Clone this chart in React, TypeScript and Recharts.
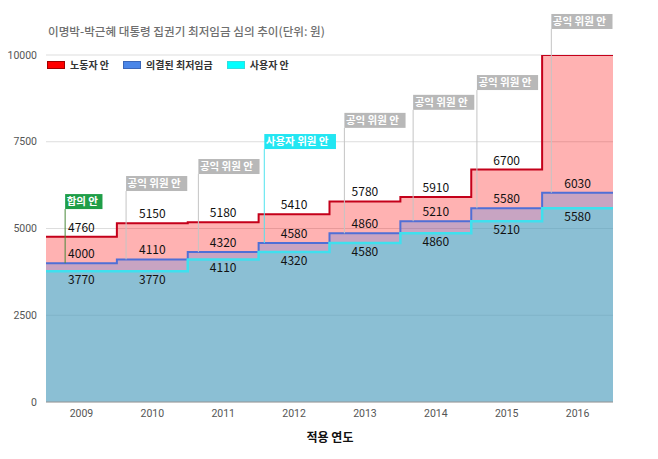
import React from 'react';
import {
  ComposedChart,
  Area,
  XAxis,
  YAxis,
  CartesianGrid,
  ReferenceLine,
  ReferenceDot,
  Scatter,
} from 'recharts';

const YEARS = ['2009', '2010', '2011', '2012', '2013', '2014', '2015', '2016'];
const WORKER = [4760, 5150, 5180, 5410, 5780, 5910, 6700, 10000];
const DECIDED = [4000, 4110, 4320, 4580, 4860, 5210, 5580, 6030];
const EMPLOYER = [3770, 3770, 4110, 4320, 4580, 4860, 5210, 5580];
const Y_TICKS = [0, 2500, 5000, 7500, 10000];

const NOTE_LABELS = ['합의 안', '공익 위원 안', '공익 위원 안', '사용자 위원 안', '공익 위원 안', '공익 위원 안', '공익 위원 안', '공익 위원 안'];
const NOTE_KIND = ['agree', 'public', 'public', 'employer', 'public', 'public', 'public', 'public'];
const NOTE_X = [0.27, 1.13, 2.15, 3.08, 4.21, 5.18, 6.08, 7.13];
const NOTE_TOP = [5560, 6080, 6570, 7290, 7900, 8420, 8990, 10750];

const SERIES_NAMES = ['노동자 안', '의결된 최저임금', '사용자 안'];
const TITLE = '이명박-박근혜 대통령 집권기 최저임금 심의 추이(단위: 원)';
const X_TITLE = '적용 연도';

const NOTE_STYLE: Record<string, { bg: string; line: string }> = {
  agree: { bg: '#1f9e48', line: '#4a8a3a' },
  public: { bg: '#b8b8b8', line: '#c4c4c4' },
  employer: { bg: '#22e6f2', line: '#4fe3ee' },
};

const last = YEARS.length - 1;
const rows = YEARS.map((_, i) => ({
  x: i,
  worker: WORKER[i],
  decided: DECIDED[i],
  employer: EMPLOYER[i],
}));
rows.push({ x: YEARS.length, worker: WORKER[last], decided: DECIDED[last], employer: EMPLOYER[last] });

const mids = (arr: number[]) => arr.map((v, i) => ({ x: i + 0.5, v }));
const X_TICKS = YEARS.map((_, i) => i + 0.5);

const FONT = "'Noto Sans CJK KR', 'Noto Sans', sans-serif";

const textWidth = (s: string, fs: number) => {
  let w = 0;
  for (const ch of s) {
    if (ch === ' ') w += fs * 0.27;
    else if (/[\uAC00-\uD7A3]/.test(ch)) w += fs;
    else w += fs * 0.55;
  }
  return w;
};

const labelShape = (dy: number) => (p: any) => (
  <text
    x={p.cx}
    y={p.cy + dy}
    textAnchor="middle"
    fontSize={12}
    fill="#111"
    fontFamily={FONT}
  >
    {p.payload.v}
  </text>
);

const noteShape = (label: string, kind: string) => (p: any) => {
  const fs = 10.5;
  const w = textWidth(label, fs) + 3;
  const h = 15;
  return (
    <g>
      <rect x={p.cx} y={p.cy - h} width={w} height={h} fill={NOTE_STYLE[kind].bg} />
      <text x={p.cx + 1.5} y={p.cy - 4} fontSize={fs} fontWeight="bold" fill="#fff" fontFamily={FONT}>
        {label}
      </text>
    </g>
  );
};

const LEGEND_COLORS = [
  { fill: '#ff0000', border: '#a00000' },
  { fill: '#4a86e8', border: '#3a66b8' },
  { fill: '#00ffff', border: '#33dddd' },
];

export default function App() {
  return (
    <div
      style={{
        position: 'absolute',
        left: 0,
        top: 0,
        width: 658,
        height: 459,
        background: '#fff',
        fontFamily: FONT,
      }}
    >
      <div
        style={{
          position: 'absolute',
          left: 48,
          top: 22,
          fontSize: 11.6,
          color: '#6f6f6f',
          fontWeight: 500,
          whiteSpace: 'nowrap',
          lineHeight: '18px',
        }}
      >
        {TITLE}
      </div>
      <ComposedChart
        width={658}
        height={459}
        data={rows}
        margin={{ top: 55, right: 45, bottom: 27, left: 0 }}
      >
        <CartesianGrid vertical={false} stroke="#dddddd" />
        <XAxis
          dataKey="x"
          type="number"
          domain={[0, YEARS.length]}
          ticks={X_TICKS}
          tickFormatter={(v: number) => YEARS[Math.floor(v)]}
          height={30}
          tickLine={false}
          axisLine={{ stroke: '#9a9a9a' }}
          tick={{ fontSize: 10.5, fill: '#555', fontFamily: 'Roboto' }}
          allowDataOverflow
        />
        <YAxis
          type="number"
          domain={[0, 10000]}
          ticks={Y_TICKS}
          width={46}
          axisLine={false}
          tickLine={false}
          tickMargin={3}
          tick={{ fontSize: 10.5, fill: '#555', fontFamily: 'Roboto' }}
          allowDataOverflow
        />
        <Area
          type="stepAfter"
          dataKey="worker"
          stroke="#c4001a"
          strokeWidth={2}
          fill="#ff0000"
          fillOpacity={0.3}
          isAnimationActive={false}
          dot={false}
          activeDot={false}
        />
        <Area
          type="stepAfter"
          dataKey="decided"
          stroke="#4f6fd6"
          strokeWidth={2}
          fill="#4a86e8"
          fillOpacity={0.3}
          isAnimationActive={false}
          dot={false}
          activeDot={false}
        />
        <Area
          type="stepAfter"
          dataKey="employer"
          stroke="#3fe0ee"
          strokeWidth={2.5}
          fill="#00ffff"
          fillOpacity={0.3}
          isAnimationActive={false}
          dot={false}
          activeDot={false}
        />
        {NOTE_X.map((nx, i) => (
          <ReferenceLine
            key={'nl' + i}
            segment={[
              { x: nx, y: DECIDED[i] },
              { x: nx, y: NOTE_TOP[i] },
            ]}
            stroke={NOTE_STYLE[NOTE_KIND[i]].line}
            strokeWidth={1}
            ifOverflow="visible"
          />
        ))}
        {NOTE_X.map((nx, i) => (
          <ReferenceDot
            key={'nd' + i}
            x={nx}
            y={NOTE_TOP[i]}
            r={0}
            ifOverflow="visible"
            shape={noteShape(NOTE_LABELS[i], NOTE_KIND[i])}
          />
        ))}
        <Scatter data={mids(WORKER)} dataKey="v" isAnimationActive={false} shape={labelShape(-5)} />
        <Scatter data={mids(DECIDED)} dataKey="v" isAnimationActive={false} shape={labelShape(-5)} />
        <Scatter data={mids(EMPLOYER)} dataKey="v" isAnimationActive={false} shape={labelShape(13)} />
      </ComposedChart>
      <div
        style={{
          position: 'absolute',
          left: 47,
          top: 57,
          display: 'flex',
          alignItems: 'center',
          fontSize: 10,
          fontWeight: 'bold',
          color: '#333',
          whiteSpace: 'nowrap',
        }}
      >
        {SERIES_NAMES.map((n, i) => (
          <div key={n} style={{ display: 'flex', alignItems: 'center', marginRight: 14 }}>
            <div
              style={{
                width: 16,
                height: 6,
                background: LEGEND_COLORS[i].fill,
                border: `1px solid ${LEGEND_COLORS[i].border}`,
                marginRight: 5,
              }}
            />
            <span>{n}</span>
          </div>
        ))}
      </div>
      <div
        style={{
          position: 'absolute',
          left: 0,
          width: 660,
          top: 428,
          textAlign: 'center',
          fontSize: 12,
          fontWeight: 'bold',
          color: '#111',
        }}
      >
        {X_TITLE}
      </div>
    </div>
  );
}
